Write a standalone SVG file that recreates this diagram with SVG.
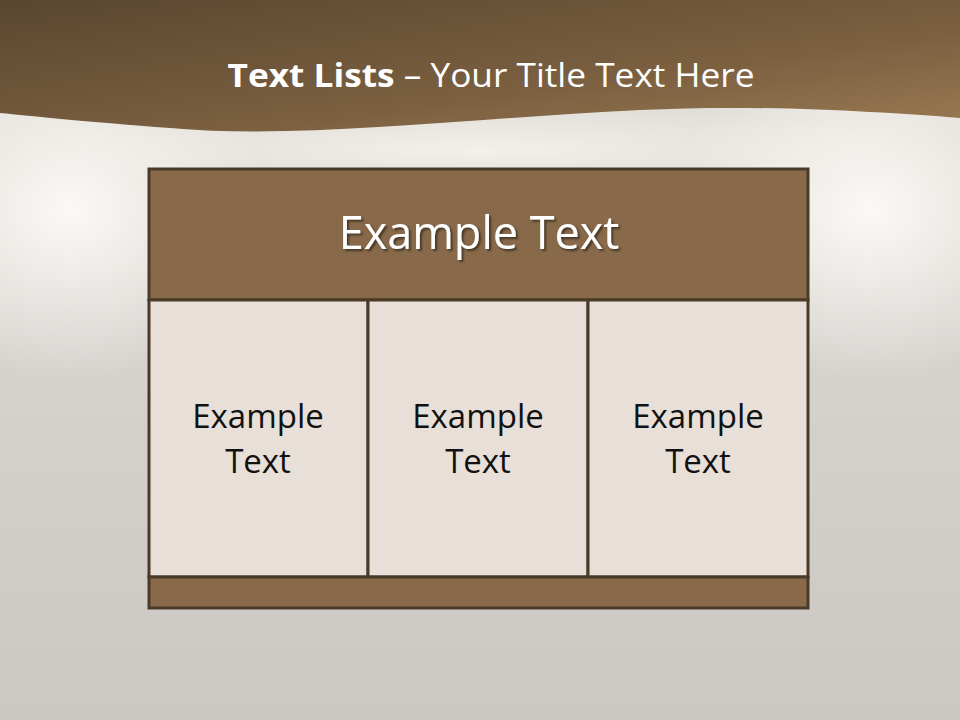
<svg xmlns="http://www.w3.org/2000/svg" width="960" height="720" viewBox="0 0 960 720">
<defs>
<linearGradient id="bg" x1="0" y1="0" x2="0" y2="1">
<stop offset="0" stop-color="#e6e2dc"/>
<stop offset="0.5" stop-color="#d6d3cf"/>
<stop offset="1" stop-color="#cbc8c4"/>
</linearGradient>
<radialGradient id="glowL" cx="0.5" cy="0.5" r="0.5">
<stop offset="0" stop-color="#fbf9f5" stop-opacity="1"/>
<stop offset="1" stop-color="#fbf9f5" stop-opacity="0"/>
</radialGradient>
<linearGradient id="band" x1="0" y1="0" x2="1" y2="1">
<stop offset="0" stop-color="#5a4630"/>
<stop offset="0.6" stop-color="#7a5f40"/>
<stop offset="1" stop-color="#9a7a52"/>
</linearGradient>
<filter id="sh" x="-10%" y="-10%" width="120%" height="140%">
<feDropShadow dx="2" dy="2" stdDeviation="1.2" flood-color="#000" flood-opacity="0.5"/>
</filter>
</defs>
<style>
.frame{stroke:#4a3a28;stroke-width:3}
.dark{fill:#886a4a}
.light{fill:#e8e0d8}
.t{font-family:"Open Sans","Liberation Sans",sans-serif;text-anchor:middle}
.cell{font-size:33px;fill:#111}
</style>
<rect width="960" height="720" fill="url(#bg)"/>
<ellipse cx="70" cy="210" rx="200" ry="170" fill="url(#glowL)"/>
<ellipse cx="870" cy="210" rx="200" ry="170" fill="url(#glowL)"/>
<ellipse cx="480" cy="150" rx="440" ry="45" fill="url(#glowL)" opacity="0.7"/>
<path d="M0 0 H960 V118 C880 112 760 104 640 110 C470 118 300 140 170 128 C90 122 30 116 0 113 Z" fill="url(#band)"/>
<g id="title">
<text x="491" y="87" class="t" font-size="33" fill="#fff" textLength="527" lengthAdjust="spacingAndGlyphs"><tspan font-weight="bold">Text Lists</tspan><tspan>  – Your Title Text Here</tspan></text>
</g>
<g id="header">
<rect x="149" y="169" width="659" height="131" class="dark frame"/>
<text x="479" y="249" class="t" font-size="45" fill="#fff" filter="url(#sh)">Example Text</text>
</g>
<g id="cell1">
<rect x="149" y="300" width="219" height="277" class="light frame"/>
<text x="258" y="428" class="t cell">Example</text>
<text x="258" y="473" class="t cell">Text</text>
</g>
<g id="cell2">
<rect x="368" y="300" width="220" height="277" class="light frame"/>
<text x="478" y="428" class="t cell">Example</text>
<text x="478" y="473" class="t cell">Text</text>
</g>
<g id="cell3">
<rect x="588" y="300" width="220" height="277" class="light frame"/>
<text x="698" y="428" class="t cell">Example</text>
<text x="698" y="473" class="t cell">Text</text>
</g>
<g id="footer">
<rect x="149" y="577" width="659" height="31" class="dark frame"/>
</g>
<g id="connectors"/>
</svg>
